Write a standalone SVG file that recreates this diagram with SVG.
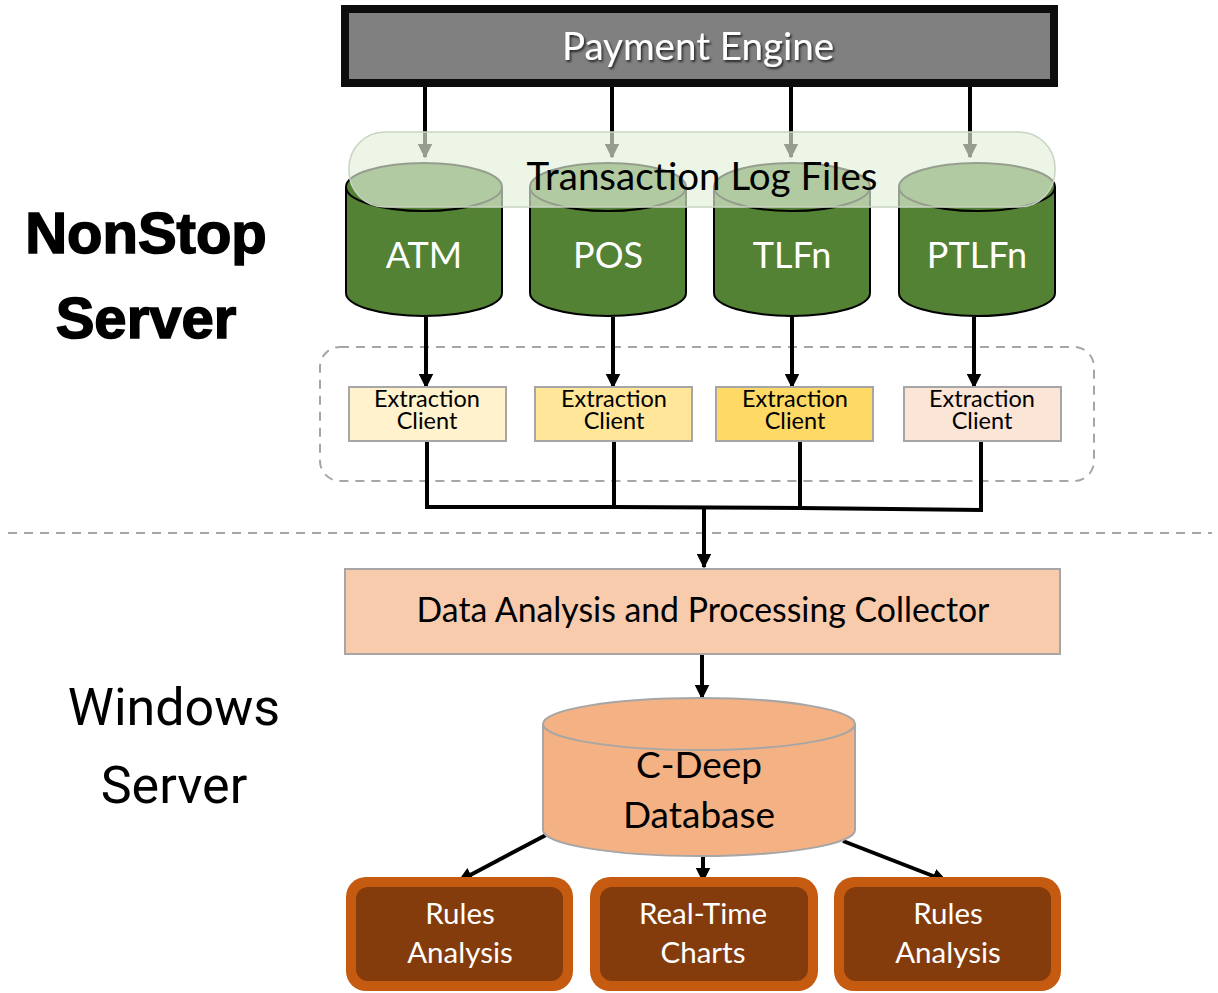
<svg xmlns="http://www.w3.org/2000/svg" width="1218" height="993" viewBox="0 0 1218 993">
<defs>
  <marker id="arr" viewBox="0 0 10 10" refX="9" refY="5" markerWidth="15" markerHeight="15" markerUnits="userSpaceOnUse" orient="auto">
    <path d="M0,0 L10,5 L0,10 z" fill="#000"/>
  </marker>
  <filter id="shadow" x="-10%" y="-30%" width="120%" height="160%">
    <feDropShadow dx="1.5" dy="2" stdDeviation="1.2" flood-color="#000" flood-opacity="0.7"/>
  </filter>
</defs>
<style>
  .t { font-family: Lato, "Open Sans", sans-serif; text-anchor: middle; }
  .conn { stroke: #000; stroke-width: 4; fill: none; }
  .cyl { fill: #548235; stroke: #000; stroke-width: 2; }
  .ext { stroke: #a6a6a6; stroke-width: 2; }
  .outer { fill: #c55a11; }
  .inner { fill: #843c0c; }
  .ns { font-family: "Liberation Sans", Arial, sans-serif; font-weight: bold; font-size: 58px; text-anchor: middle; stroke: #000; stroke-width: 1.6; }
  .win { font-family: Roboto, sans-serif; font-size: 52px; text-anchor: middle; }
</style>
<rect width="1218" height="993" fill="#fff"/>

<!-- section labels -->
<g id="label-nonstop">
  <text class="ns" x="146" y="253">NonStop</text>
  <text class="ns" x="146" y="338">Server</text>
</g>
<g id="label-windows">
  <text class="win" x="174" y="725">Windows</text>
  <text class="win" x="174" y="803">Server</text>
</g>

<line x1="8" y1="533" x2="1212" y2="533" stroke="#a6a6a6" stroke-width="2" stroke-dasharray="9,7"/>

<g id="payment-engine">
  <rect x="345" y="9" width="709" height="74" fill="#808080" stroke="#0d0d0d" stroke-width="8"/>
  <text class="t" x="698" y="60" font-size="38.5" fill="#fff" filter="url(#shadow)">Payment Engine</text>
</g>

<g id="engine-connectors">
  <line class="conn" x1="425" y1="87" x2="425" y2="157" marker-end="url(#arr)"/>
  <line class="conn" x1="612" y1="87" x2="612" y2="157" marker-end="url(#arr)"/>
  <line class="conn" x1="791" y1="87" x2="791" y2="157" marker-end="url(#arr)"/>
  <line class="conn" x1="970" y1="87" x2="970" y2="157" marker-end="url(#arr)"/>
</g>

<g id="cyl-atm">
  <path class="cyl" d="M346,187 L346,293 A78,23 0 0 0 502,293 L502,187"/>
  <ellipse class="cyl" cx="424" cy="187" rx="78" ry="24"/>
  <text class="t" x="424" y="268" font-size="36" fill="#fff">ATM</text>
</g>
<g id="cyl-pos">
  <path class="cyl" d="M530,187 L530,293 A78,23 0 0 0 686,293 L686,187"/>
  <ellipse class="cyl" cx="608" cy="187" rx="78" ry="24"/>
  <text class="t" x="608" y="268" font-size="36" fill="#fff">POS</text>
</g>
<g id="cyl-tlfn">
  <path class="cyl" d="M714,187 L714,293 A78,23 0 0 0 870,293 L870,187"/>
  <ellipse class="cyl" cx="792" cy="187" rx="78" ry="24"/>
  <text class="t" x="792" y="268" font-size="36" fill="#fff">TLFn</text>
</g>
<g id="cyl-ptlfn">
  <path class="cyl" d="M899,187 L899,293 A78,23 0 0 0 1055,293 L1055,187"/>
  <ellipse class="cyl" cx="977" cy="187" rx="78" ry="24"/>
  <text class="t" x="977" y="268" font-size="36" fill="#fff">PTLFn</text>
</g>

<g id="transaction-log-files">
  <rect x="349" y="132" width="706" height="75" rx="36" fill="#e2f0d9" fill-opacity="0.66" stroke="#c9d3c2" stroke-width="1.5"/>
  <text class="t" x="702" y="190" font-size="38.5" fill="#000">Transaction Log Files</text>
</g>

<g id="extraction-group">
  <rect x="320" y="347" width="774" height="134" rx="20" fill="none" stroke="#a6a6a6" stroke-width="2" stroke-dasharray="9,7"/>
</g>

<g id="connectors">
  <line class="conn" x1="426" y1="317" x2="426" y2="387" marker-end="url(#arr)"/>
  <line class="conn" x1="613" y1="317" x2="613" y2="387" marker-end="url(#arr)"/>
  <line class="conn" x1="792" y1="317" x2="792" y2="387" marker-end="url(#arr)"/>
  <line class="conn" x1="974" y1="317" x2="974" y2="387" marker-end="url(#arr)"/>
  <polyline class="conn" points="427,441 427,507 614,507 614,441"/>
  <polyline class="conn" points="614,507 800,508 800,441"/>
  <polyline class="conn" points="800,508 981,510 981,441"/>
  <line class="conn" x1="704" y1="507" x2="704" y2="567" marker-end="url(#arr)"/>
  <line class="conn" x1="702" y1="654" x2="702" y2="698" marker-end="url(#arr)"/>
  <line class="conn" x1="546" y1="835" x2="459" y2="881" marker-end="url(#arr)"/>
  <line class="conn" x1="703" y1="856" x2="703" y2="881" marker-end="url(#arr)"/>
  <line class="conn" x1="843" y1="841" x2="946" y2="881" marker-end="url(#arr)"/>
</g>

<g id="extraction-atm">
  <rect class="ext" x="349" y="387" width="157" height="54" fill="#fff2cc"/>
  <text class="t" font-size="23.5"><tspan x="427" y="407">Extraction</tspan><tspan x="427" y="429">Client</tspan></text>
</g>
<g id="extraction-pos">
  <rect class="ext" x="535" y="387" width="157" height="54" fill="#ffe699"/>
  <text class="t" font-size="23.5"><tspan x="614" y="407">Extraction</tspan><tspan x="614" y="429">Client</tspan></text>
</g>
<g id="extraction-tlfn">
  <rect class="ext" x="716" y="387" width="157" height="54" fill="#ffd966"/>
  <text class="t" font-size="23.5"><tspan x="795" y="407">Extraction</tspan><tspan x="795" y="429">Client</tspan></text>
</g>
<g id="extraction-ptlfn">
  <rect class="ext" x="904" y="387" width="157" height="54" fill="#fbe5d6"/>
  <text class="t" font-size="23.5"><tspan x="982" y="407">Extraction</tspan><tspan x="982" y="429">Client</tspan></text>
</g>

<g id="collector">
  <rect x="345" y="569" width="715" height="85" fill="#f8cbad" stroke="#a6a6a6" stroke-width="2"/>
  <text class="t" x="703" y="622" font-size="33.8">Data Analysis and Processing Collector</text>
</g>

<g id="cdeep-db">
  <path d="M543,724 L543,830 A156,26 0 0 0 855,830 L855,724" fill="#f4b183" stroke="#a6a6a6" stroke-width="2"/>
  <ellipse cx="699" cy="724" rx="156" ry="26" fill="#f4b183" stroke="#a6a6a6" stroke-width="2"/>
  <text class="t" x="699" y="778" font-size="37">C-Deep</text>
  <text class="t" x="699" y="828" font-size="37">Database</text>
</g>

<g id="rules-analysis-1">
  <rect class="outer" x="346" y="877" width="227" height="114" rx="20"/>
  <rect class="inner" x="356" y="887" width="207" height="94" rx="12"/>
  <text class="t" x="460" y="924" font-size="29.5" fill="#fff">Rules</text>
  <text class="t" x="460" y="963" font-size="29.5" fill="#fff">Analysis</text>
</g>
<g id="realtime-charts">
  <rect class="outer" x="590" y="877" width="228" height="114" rx="20"/>
  <rect class="inner" x="600" y="887" width="208" height="94" rx="12"/>
  <text class="t" x="703" y="924" font-size="29.5" fill="#fff">Real-Time</text>
  <text class="t" x="703" y="963" font-size="29.5" fill="#fff">Charts</text>
</g>
<g id="rules-analysis-2">
  <rect class="outer" x="834" y="877" width="227" height="114" rx="20"/>
  <rect class="inner" x="844" y="887" width="207" height="94" rx="12"/>
  <text class="t" x="948" y="924" font-size="29.5" fill="#fff">Rules</text>
  <text class="t" x="948" y="963" font-size="29.5" fill="#fff">Analysis</text>
</g>
</svg>
